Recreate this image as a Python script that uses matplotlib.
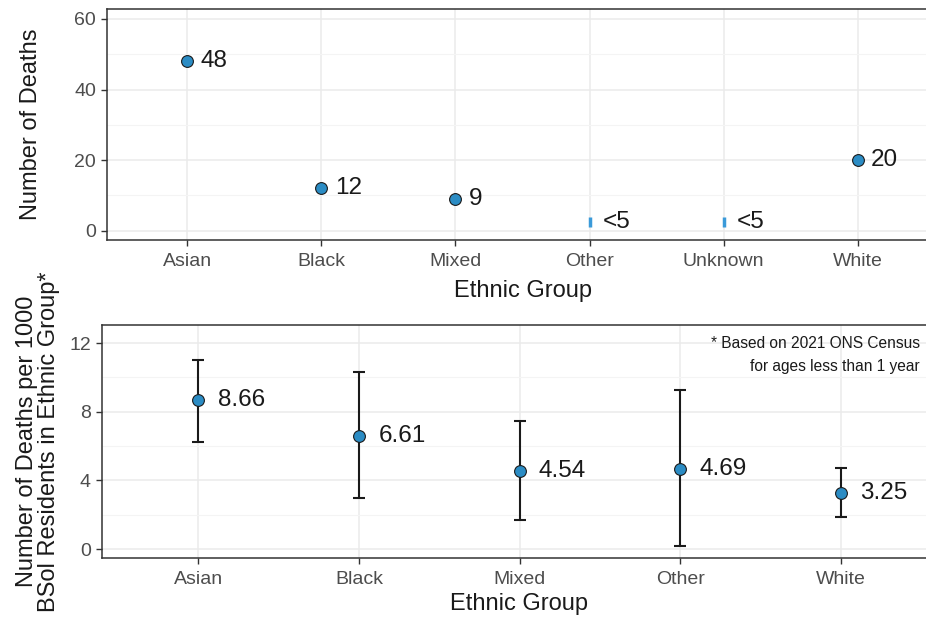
import numpy as np
import matplotlib.pyplot as plt
from matplotlib.ticker import MultipleLocator

plt.rcParams["font.family"] = ["Liberation Sans", "DejaVu Sans"]

# ---- data ----
groups_top = ["Asian", "Black", "Mixed", "Other", "Unknown", "White"]
deaths = [48, 12, 9, None, None, 20]
deaths_labels = ["48", "12", "9", "<5", "<5", "20"]
# suppressed counts shown as a small range
suppressed_lo = 1
suppressed_hi = 4

groups_bot = ["Asian", "Black", "Mixed", "Other", "White"]
rate = [8.66, 6.61, 4.54, 4.69, 3.25]
rate_lo = [6.25, 2.95, 1.68, 0.18, 1.88]
rate_hi = [11.0, 10.3, 7.47, 9.26, 4.70]

point_fill = "#2b8cc4"
grid_col = "#ebebeb"
border_col = "#333333"
tick_col = "#4d4d4d"
text_col = "#1a1a1a"

fig = plt.figure(figsize=(9.26, 6.17), dpi=100)
ax1 = fig.add_axes([107 / 926, 1 - 240 / 617, 831 / 926, 231 / 617])
ax2 = fig.add_axes([102 / 926, 1 - 558 / 617, 835 / 926, 233 / 617])


def style(ax):
    ax.grid(True, which="major", color=grid_col, lw=1.1, zorder=0)
    ax.grid(True, which="minor", axis="y", color="#f4f4f4", lw=0.8, zorder=0)
    for s in ax.spines.values():
        s.set_color(border_col)
        s.set_linewidth(1.1)
    ax.tick_params(axis="both", which="major", length=4, width=1.0,
                   color=border_col, labelcolor=tick_col, labelsize=14, pad=4)
    ax.tick_params(axis="x", which="major", pad=5.5)
    ax.tick_params(axis="both", which="minor", length=0)
    ax.set_axisbelow(True)


# ---- top panel: number of deaths ----
x1 = np.arange(len(groups_top))
for i, (v, lab) in enumerate(zip(deaths, deaths_labels)):
    if v is None:
        ax1.plot([x1[i], x1[i]], [suppressed_lo, suppressed_hi], color="#3a9ad9",
                 lw=2.5, solid_capstyle="butt", zorder=3)
        y = (suppressed_lo + suppressed_hi) / 2
    else:
        ax1.scatter(x1[i], v, s=72, color=point_fill, edgecolor=text_col,
                    linewidth=0.8, zorder=3)
        y = v
    ax1.annotate(lab, (x1[i], y), xytext=(9.5, 0), textcoords="offset points",
                 ha="left", va="center", fontsize=17.5, color=text_col)

ax1.set_xlim(-0.6, len(groups_top) - 0.4)
ax1.set_ylim(-2.6, 62.8)
ax1.set_xticks(x1)
ax1.set_xticklabels(groups_top)
ax1.yaxis.set_major_locator(MultipleLocator(20))
ax1.yaxis.set_minor_locator(MultipleLocator(10))
style(ax1)
ax1.set_xlabel("Ethnic Group", fontsize=17, color=text_col, va="center")
ax1.xaxis.set_label_coords(0.5, (240 - 291) / 231)
ax1.set_ylabel("Number of Deaths", fontsize=17, color=text_col, va="center")
ax1.yaxis.set_label_coords((31 - 107) / 831, 0.5)

# ---- bottom panel: rate per 1000 residents ----
x2 = np.arange(len(groups_bot))
r = np.array(rate)
err = [r - np.array(rate_lo), np.array(rate_hi) - r]
ax2.errorbar(x2, r, yerr=err, fmt="none", ecolor=text_col, elinewidth=1.5,
             capsize=4, capthick=1.5, zorder=2)
ax2.scatter(x2, r, s=72, color=point_fill, edgecolor=text_col,
            linewidth=0.8, zorder=3)
for xi, v in zip(x2, rate):
    ax2.annotate(f"{v:.2f}", (xi, v), xytext=(14, 0), textcoords="offset points",
                 ha="left", va="center", fontsize=17.5, color=text_col)

ax2.set_xlim(-0.6, len(groups_bot) - 0.4)
ax2.set_ylim(-0.52, 13.05)
ax2.set_xticks(x2)
ax2.set_xticklabels(groups_bot)
ax2.yaxis.set_major_locator(MultipleLocator(4))
ax2.yaxis.set_minor_locator(MultipleLocator(2))
style(ax2)
ax2.set_xlabel("Ethnic Group", fontsize=17, color=text_col, va="center")
ax2.xaxis.set_label_coords(0.5, (558 - 604) / 233)
ax2.set_ylabel("Number of Deaths per 1000\nBSol Residents in Ethnic Group*",
               fontsize=17, color=text_col, linespacing=1.05, va="center")
ax2.yaxis.set_label_coords((38 - 102) / 835, 0.5)

fig.text(920 / 926, 1 - 343 / 617, "* Based on 2021 ONS Census", ha="right",
         va="center", fontsize=11.2, color=text_col)
fig.text(920 / 926, 1 - 367 / 617, "for ages less than 1 year", ha="right",
         va="center", fontsize=11.2, color=text_col)

fig.savefig("out.png", dpi=100)
